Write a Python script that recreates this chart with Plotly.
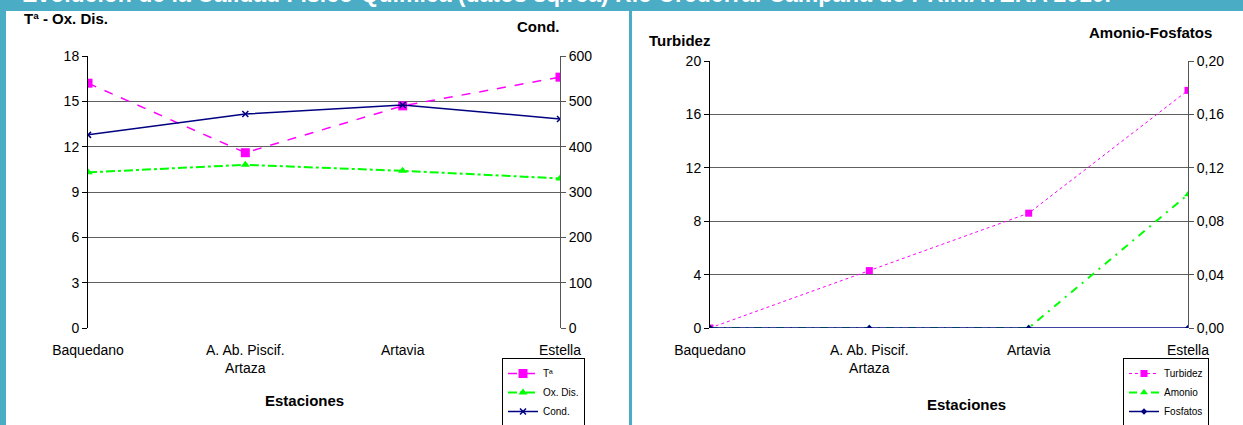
import plotly.graph_objects as go

W, H = 1243, 425

estaciones = ["Baquedano", "A. Ab. Piscif.<br>Artaza", "Artavia", "Estella"]
temp = [16.2, 11.6, 14.7, 16.6]
oxdis = [10.3, 10.8, 10.4, 9.9]
cond = [426, 472, 492, 461]
turbidez = [0.0, 4.3, 8.6, 17.8]
amonio = [0.0, 0.0, 0.0, 0.10]
fosfatos = [0.0, 0.0, 0.0, 0.0]

left_ticks = [0, 3, 6, 9, 12, 15, 18]
cond_ticks = [0, 100, 200, 300, 400, 500, 600]
turb_ticks = [0, 4, 8, 12, 16, 20]
af_ticks = [0, 0.04, 0.08, 0.12, 0.16, 0.20]

TEAL = "#4BACC6"
FONT = "Liberation Sans"


def px(x):
    return x / W


def py(y):
    return 1 - y / H


fig = go.Figure()

# Left chart
fig.add_trace(go.Scatter(x=estaciones, y=temp, name="Tª", xaxis="x", yaxis="y",
                         mode="lines+markers", legend="legend",
                         line=dict(color="#FF00FF", width=1.5, dash="dash"),
                         marker=dict(symbol="square", size=9, color="#FF00FF")))
fig.add_trace(go.Scatter(x=estaciones, y=oxdis, name="Ox. Dis.", xaxis="x", yaxis="y",
                         mode="lines+markers", legend="legend",
                         line=dict(color="#00FF00", width=2, dash="dashdot"),
                         marker=dict(symbol="triangle-up", size=8, color="#00FF00")))
fig.add_trace(go.Scatter(x=estaciones, y=cond, name="Cond.", xaxis="x", yaxis="y2",
                         mode="lines+markers", legend="legend",
                         line=dict(color="#000080", width=1.5),
                         marker=dict(symbol="x-thin", size=6, color="#000080",
                                     line=dict(color="#000080", width=1.5))))

# Right chart
fig.add_trace(go.Scatter(x=estaciones, y=turbidez, name="Turbidez", xaxis="x2", yaxis="y3",
                         mode="lines+markers", legend="legend2",
                         line=dict(color="#FF00FF", width=1, dash="dot"),
                         marker=dict(symbol="square", size=7, color="#FF00FF")))
fig.add_trace(go.Scatter(x=estaciones, y=amonio, name="Amonio", xaxis="x2", yaxis="y4",
                         mode="lines+markers", legend="legend2",
                         line=dict(color="#00FF00", width=2, dash="8px,6px,2px,6px"),
                         marker=dict(symbol="triangle-up", size=7, color="#00FF00")))
fig.add_trace(go.Scatter(x=estaciones, y=fosfatos, name="Fosfatos", xaxis="x2", yaxis="y4",
                         mode="lines+markers", legend="legend2",
                         line=dict(color="#000080", width=1.5),
                         marker=dict(symbol="diamond", size=5, color="#000080")))

tickfont = dict(family=FONT, size=14, color="black")
grid = dict(showgrid=True, gridcolor="#5f5f5f", gridwidth=1)

ly0, ly1 = 328, 56
ry0, ry1 = 328, 61

fig.update_layout(
    width=W, height=H,
    margin=dict(l=0, r=0, t=0, b=0, autoexpand=False),
    paper_bgcolor=TEAL,
    plot_bgcolor="rgba(0,0,0,0)",
    separators=",.",
    font=dict(family=FONT, size=12, color="black"),
    xaxis=dict(domain=[px(88), px(560)], anchor="y", type="category",
               range=[0, 3], showgrid=False, showline=False, ticks="",
               tickfont=tickfont, zeroline=False, ticklabelstandoff=12),
    yaxis=dict(domain=[py(ly0), py(ly1)], anchor="x", range=[0, 18],
               tickvals=left_ticks, ticks="outside", ticklen=5, tickcolor="black",
               showline=True, linecolor="black", linewidth=1, zeroline=False,
               tickfont=tickfont, **grid),
    yaxis2=dict(overlaying="y", side="right", anchor="x", range=[0, 600],
                tickvals=cond_ticks, ticks="outside", ticklen=5, tickcolor="#555",
                showline=True, linecolor="#555", linewidth=1, showgrid=False,
                zeroline=False, tickfont=tickfont),
    xaxis2=dict(domain=[px(710), px(1188)], anchor="y3", type="category",
                range=[0, 3], showgrid=False, showline=False, ticks="",
                tickfont=tickfont, zeroline=False, ticklabelstandoff=12),
    yaxis3=dict(domain=[py(ry0), py(ry1)], anchor="x2", range=[0, 20],
                tickvals=turb_ticks, ticks="outside", ticklen=5, tickcolor="black",
                showline=True, linecolor="black", linewidth=1, zeroline=False,
                tickfont=tickfont, **grid),
    yaxis4=dict(overlaying="y3", side="right", anchor="x2", range=[0, 0.20],
                tickvals=af_ticks, tickformat=".2f", ticks="outside", ticklen=5,
                tickcolor="#555", showline=True, linecolor="#555", linewidth=1,
                showgrid=False, zeroline=False, tickfont=tickfont),
    legend=dict(x=px(502), y=py(358), xanchor="left", yanchor="top",
                bgcolor="white", bordercolor="black", borderwidth=1,
                font=dict(family=FONT, size=10), itemwidth=30,
                tracegroupgap=0),
    legend2=dict(x=px(1123), y=py(358), xanchor="left", yanchor="top",
                 bgcolor="white", bordercolor="black", borderwidth=1,
                 font=dict(family=FONT, size=10), itemwidth=30,
                 tracegroupgap=0),
    showlegend=True,
)

shapes = [
    dict(type="rect", xref="paper", yref="paper", x0=px(6), x1=px(629),
         y0=0, y1=py(11), fillcolor="white", line=dict(width=0), layer="below"),
    dict(type="rect", xref="paper", yref="paper", x0=px(632), x1=1,
         y0=0, y1=py(11), fillcolor="white", line=dict(width=0), layer="below"),
]
fig.update_layout(shapes=shapes)

bold = dict(family=FONT, size=15, color="black")
annotations = [
    dict(text="<b>Evolución de la Calidad Físico-Química (datos sq/rea) Río Urederra: Campaña de PRIMAVERA 2010.</b>",
         x=px(20), y=py(-6), xanchor="left", yanchor="middle",
         font=dict(family=FONT, size=23, color="white")),
    dict(text="<b>Tª - Ox. Dis.</b>", x=px(22), y=py(19), xanchor="left", yanchor="middle", font=bold),
    dict(text="<b>Cond.</b>", x=px(562), y=py(27), xanchor="right", yanchor="middle", font=bold),
    dict(text="<b>Estaciones</b>", x=px(304), y=py(400), xanchor="center", yanchor="middle", font=bold),
    dict(text="<b>Turbidez</b>", x=px(647), y=py(40), xanchor="left", yanchor="middle", font=bold),
    dict(text="<b>Amonio-Fosfatos</b>", x=px(1214), y=py(32), xanchor="right", yanchor="middle", font=bold),
    dict(text="<b>Estaciones</b>", x=px(966), y=py(404), xanchor="center", yanchor="middle", font=bold),
]
for a in annotations:
    a.update(xref="paper", yref="paper", showarrow=False)
fig.update_layout(annotations=annotations)

fig.write_html("out.html",
               config={"displayModeBar": False},
               post_script="document.body.style.margin='0px';document.body.style.overflow='hidden';")
